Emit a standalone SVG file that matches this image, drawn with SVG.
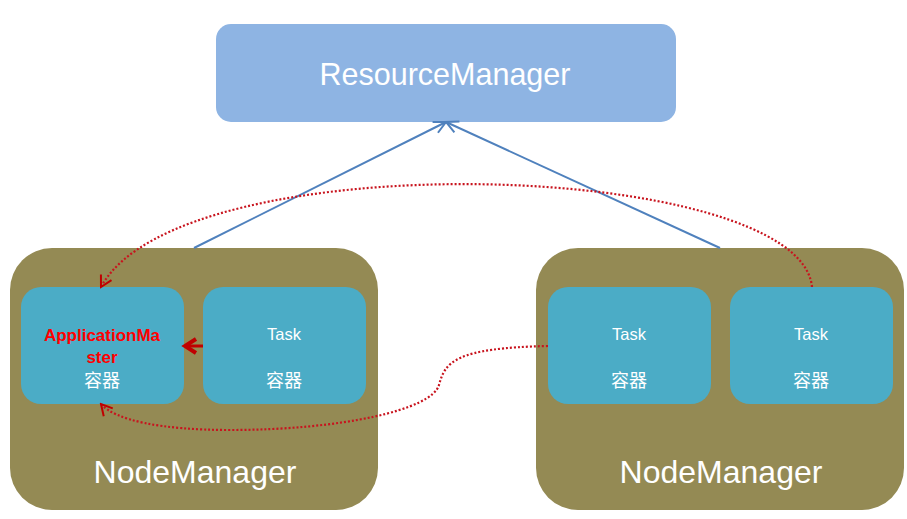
<svg xmlns="http://www.w3.org/2000/svg" width="907" height="519" viewBox="0 0 907 519">
<style>
.rm{fill:#8EB4E3}
.nm{fill:#948A54}
.ct{fill:#4BACC6}
.t{fill:#fff;font-family:"Liberation Sans","Noto Sans CJK SC",sans-serif;text-anchor:middle}
.cjk{fill:#fff;font-family:"Noto Sans CJK SC",sans-serif;text-anchor:middle;font-size:18px}
.am{fill:#FF0000;font-weight:bold;font-size:17px}
.blue{stroke:#4F81BD;stroke-width:2;fill:none}
.dot{stroke:#C8141E;stroke-width:2.2;stroke-dasharray:2 2;fill:none}
</style>
<defs>
<marker id="ab" markerWidth="16" markerHeight="16" refX="14" refY="8" orient="auto" markerUnits="userSpaceOnUse">
<path d="M2,2 L14,8 L2,14" fill="none" stroke="#4F81BD" stroke-width="2"/>
</marker>
<marker id="ar" markerWidth="16" markerHeight="16" refX="14" refY="8" orient="auto" markerUnits="userSpaceOnUse">
<path d="M3,2 L14,8 L3,14" fill="none" stroke="#C00000" stroke-width="2"/>
</marker>
<marker id="as" markerWidth="20" markerHeight="20" refX="16" refY="10" orient="auto" markerUnits="userSpaceOnUse">
<path d="M5,3 L16,10 L5,17" fill="none" stroke="#C00000" stroke-width="4"/>
</marker>
</defs>
<g id="resourcemanager">
<rect class="rm" x="216" y="24" width="460" height="98" rx="15"/>
<text class="t" x="445" y="85" font-size="30.5">ResourceManager</text>
</g>
<g id="nodemanager1">
<rect class="nm" x="10" y="248" width="368" height="262" rx="42"/>
<text class="t" x="195" y="483" font-size="32">NodeManager</text>
</g>
<g id="nodemanager2">
<rect class="nm" x="536" y="248" width="368" height="262" rx="42"/>
<text class="t" x="721" y="483" font-size="32">NodeManager</text>
</g>
<g id="appmaster">
<rect class="ct" x="21" y="287" width="163" height="117" rx="20"/>
<text class="t am" x="102" y="341">ApplicationMa</text>
<text class="t am" x="102" y="363">ster</text>
<text class="cjk" x="102" y="387">容器</text>
</g>
<g id="task1">
<rect class="ct" x="203" y="287" width="163" height="117" rx="20"/>
<text class="t" x="284" y="340" font-size="16.5">Task</text>
<text class="cjk" x="284" y="387">容器</text>
</g>
<g id="task2">
<rect class="ct" x="548" y="287" width="163" height="117" rx="20"/>
<text class="t" x="629" y="340" font-size="16.5">Task</text>
<text class="cjk" x="629" y="387">容器</text>
</g>
<g id="task3">
<rect class="ct" x="730" y="287" width="163" height="117" rx="20"/>
<text class="t" x="811" y="340" font-size="16.5">Task</text>
<text class="cjk" x="811" y="387">容器</text>
</g>
<g id="connectors">
<line class="blue" x1="194" y1="248" x2="446" y2="122" marker-end="url(#ab)"/>
<line class="blue" x1="720" y1="248" x2="446" y2="122" marker-end="url(#ab)"/>
<path class="dot" d="M812,287 C800,160 180,140 101,287" marker-end="url(#ar)"/>
<path class="dot" d="M548,346 C455,348 445,362 439,385 C432,410 340,430 230,430 C160,430 115,420 101,404" marker-end="url(#ar)"/>
<line x1="203" y1="346" x2="185" y2="346" stroke="#C00000" stroke-width="3" marker-end="url(#as)"/>
</g>
</svg>
